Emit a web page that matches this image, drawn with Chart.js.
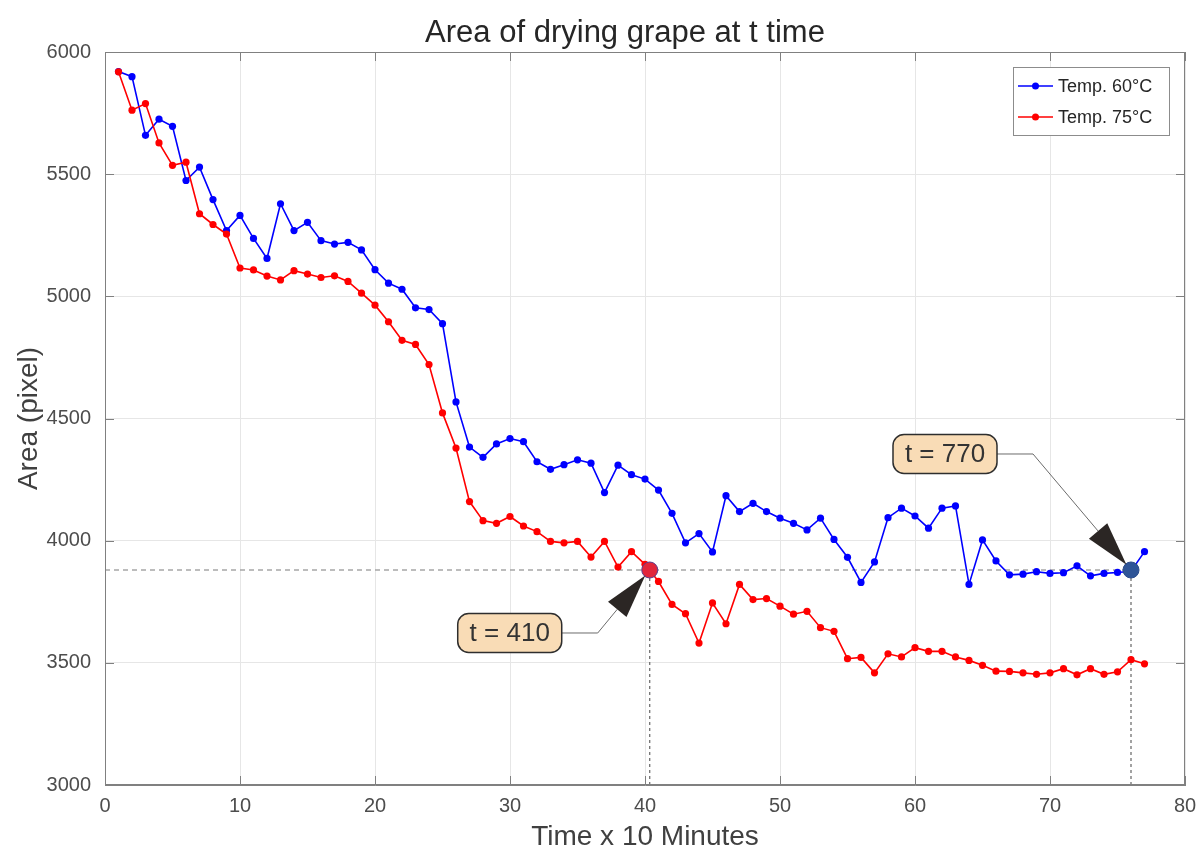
<!DOCTYPE html>
<html>
<head>
<meta charset="utf-8">
<title>Area of drying grape at t time</title>
<script src="https://cdn.jsdelivr.net/npm/chart.js@4.4.1/dist/chart.umd.min.js"></script>
<style>
  html, body { margin: 0; padding: 0; background: #fff; }
  #wrap { width: 1199px; height: 854px; }
</style>
</head>
<body>
<div id="wrap"><canvas id="grapeChart" width="1199" height="854"></canvas></div>
<script>
// values (x in units of 10 minutes)
const timeSteps = [1, 2, 3, 4, 5, 6, 7, 8, 9, 10, 11, 12, 13, 14, 15, 16, 17, 18, 19, 20,
  21, 22, 23, 24, 25, 26, 27, 28, 29, 30, 31, 32, 33, 34, 35, 36, 37, 38, 39, 40,
  41, 42, 43, 44, 45, 46, 47, 48, 49, 50, 51, 52, 53, 54, 55, 56, 57, 58, 59, 60,
  61, 62, 63, 64, 65, 66, 67, 68, 69, 70, 71, 72, 73, 74, 75, 76, 77];

const areaTemp60 = [5920, 5899, 5659, 5725, 5696, 5474, 5529, 5396, 5269, 5331,
  5237, 5155, 5379, 5269, 5303, 5228, 5214, 5221, 5190, 5109,
  5054, 5029, 4953, 4946, 4888, 4568, 4383, 4341, 4396, 4418,
  4405, 4323, 4292, 4311, 4331, 4317, 4197, 4309, 4270, 4252,
  4207, 4112, 3991, 4029, 3954, 4184, 4119, 4153, 4119, 4092,
  4071, 4044, 4092, 4005, 3932, 3829, 3913, 4094, 4133, 4101,
  4051, 4133, 4142, 3821, 4003, 3917, 3860, 3863, 3873, 3866,
  3869, 3897, 3856, 3866, 3870, 3875, 3955];

const areaTemp75 = [5919, 5762, 5789, 5628, 5536, 5549, 5338, 5294, 5255, 5116,
  5108, 5083, 5067, 5105, 5091, 5077, 5084, 5061, 5013, 4964,
  4896, 4820, 4803, 4721, 4523, 4379, 4160, 4082, 4071, 4099,
  4060, 4037, 3997, 3991, 3997, 3933, 3997, 3892, 3955, 3903,
  3833, 3739, 3701, 3581, 3745, 3660, 3821, 3759, 3763, 3732,
  3699, 3711, 3644, 3629, 3517, 3522, 3459, 3537, 3524, 3562,
  3547, 3547, 3524, 3510, 3490, 3466, 3465, 3459, 3453, 3459,
  3476, 3451, 3476, 3453, 3463, 3513, 3496];

const seriesLabels = ['Temp. 60°C', 'Temp. 75°C'];
const xTickValues = [0, 10, 20, 30, 40, 50, 60, 70, 80];
const yTickValues = [3000, 3500, 4000, 4500, 5000, 5500, 6000];

// the two marked points and their callouts
const markLabels = ['t = 410', 't = 770'];
const markTimes = [40.35, 76];
const markAreas = [3880, 3880];

const FONT = '"Liberation Sans", Arial, Helvetica, sans-serif';

function toPoints(xs, ys) {
  return xs.map((t, i) => ({ x: t, y: ys[i] }));
}

// title drawn by hand so it sits where the original one does
const titlePlugin = {
  id: 'plotTitle',
  afterDraw(chart) {
    const { ctx, chartArea: a } = chart;
    ctx.save();
    ctx.font = '31px ' + FONT;
    ctx.fillStyle = '#262626';
    ctx.textAlign = 'center';
    ctx.textBaseline = 'alphabetic';
    ctx.fillText('Area of drying grape at t time', (a.left + a.right) / 2 - 20, 42);
    ctx.restore();
  }
};

// box round the axes with inward ticks, like the original figure
const framePlugin = {
  id: 'frame',
  afterDraw(chart) {
    const { ctx, chartArea: a, scales: { x, y } } = chart;
    ctx.save();
    ctx.strokeStyle = '#808080';
    ctx.lineWidth = 1;
    ctx.beginPath();
    xTickValues.forEach(v => {
      const px = Math.round(x.getPixelForValue(v)) + 0.5;
      ctx.moveTo(px, a.bottom); ctx.lineTo(px, a.bottom - 9);
      ctx.moveTo(px, a.top); ctx.lineTo(px, a.top + 9);
    });
    yTickValues.forEach(v => {
      const py = Math.round(y.getPixelForValue(v)) + 0.5;
      ctx.moveTo(a.left, py); ctx.lineTo(a.left + 9, py);
      ctx.moveTo(a.right, py); ctx.lineTo(a.right - 9, py);
    });
    ctx.stroke();
    ctx.strokeRect(Math.round(a.left) + 0.5, Math.round(a.top) + 0.5,
      Math.round(a.width) - 1, Math.round(a.height) - 1);
    ctx.restore();
  }
};

// boxed legend in the top right corner of the plot
const boxLegendPlugin = {
  id: 'boxLegend',
  afterDraw(chart) {
    const { ctx, chartArea: a } = chart;
    const w = 156, h = 68;
    const bx = a.right - 16 - w, by = a.top + 15;
    ctx.save();
    ctx.fillStyle = '#fff';
    ctx.fillRect(bx, by, w, h);
    ctx.strokeStyle = '#8c8c8c';
    ctx.lineWidth = 1;
    ctx.strokeRect(bx + 0.5, by + 0.5, w, h);
    ctx.font = '18px ' + FONT;
    ctx.textBaseline = 'middle';
    ctx.fillStyle = '#262626';
    [0, 1].forEach(i => {
      const ds = chart.data.datasets[i];
      const ly = by + 19 + i * 31;
      ctx.strokeStyle = ds.borderColor;
      ctx.lineWidth = 1.6;
      ctx.beginPath();
      ctx.moveTo(bx + 5, ly);
      ctx.lineTo(bx + 40, ly);
      ctx.stroke();
      ctx.fillStyle = ds.borderColor;
      ctx.beginPath();
      ctx.arc(bx + 22.5, ly, 3.5, 0, Math.PI * 2);
      ctx.fill();
      ctx.fillStyle = '#262626';
      ctx.fillText(ds.label, bx + 45, ly + 1);
    });
    ctx.restore();
  }
};

// label boxes with arrows pointing at the marked points
const calloutLayout = [
  { boxDx: -140, boxDy: 63, elbowDx: -52 },
  { boxDx: -186, boxDy: -116, elbowDx: -98 }
];

function roundRect(ctx, x, y, w, h, r) {
  ctx.beginPath();
  ctx.moveTo(x + r, y);
  ctx.arcTo(x + w, y, x + w, y + h, r);
  ctx.arcTo(x + w, y + h, x, y + h, r);
  ctx.arcTo(x, y + h, x, y, r);
  ctx.arcTo(x, y, x + w, y, r);
  ctx.closePath();
}

const calloutPlugin = {
  id: 'callouts',
  afterDatasetsDraw(chart) {
    const { ctx, scales: { x, y } } = chart;
    ctx.save();
    markLabels.forEach((label, i) => {
      const lay = calloutLayout[i];
      const ax = x.getPixelForValue(markTimes[i]);
      const ay = y.getPixelForValue(markAreas[i]);
      const cx = ax + lay.boxDx, cy = ay + lay.boxDy;
      const bw = 104, bh = 39;
      const ex = ax + lay.elbowDx, ey = cy;
      // direction from elbow to the point
      const dx = ax - ex, dy = ay - ey;
      const len = Math.hypot(dx, dy);
      const ux = dx / len, uy = dy / len;
      const tipX = ax - ux * 7, tipY = ay - uy * 7;
      const baseX = tipX - ux * 44, baseY = tipY - uy * 44;

      ctx.strokeStyle = '#6b6b6b';
      ctx.lineWidth = 1;
      ctx.beginPath();
      ctx.moveTo(cx + bw / 2, cy);
      ctx.lineTo(ex, ey);
      ctx.lineTo(baseX, baseY);
      ctx.stroke();

      ctx.fillStyle = '#2b2624';
      ctx.beginPath();
      ctx.moveTo(tipX, tipY);
      ctx.lineTo(baseX - uy * 12, baseY + ux * 12);
      ctx.lineTo(baseX + uy * 12, baseY - ux * 12);
      ctx.closePath();
      ctx.fill();

      roundRect(ctx, cx - bw / 2, cy - bh / 2, bw, bh, 11);
      ctx.fillStyle = '#f9dcb6';
      ctx.fill();
      ctx.strokeStyle = '#2e2e2e';
      ctx.lineWidth = 1.5;
      ctx.stroke();

      ctx.fillStyle = '#333';
      ctx.font = '26px ' + FONT;
      ctx.textAlign = 'center';
      ctx.textBaseline = 'middle';
      ctx.fillText(label, cx, cy + 1);
    });
    ctx.restore();
  }
};

const ctx = document.getElementById('grapeChart').getContext('2d');
new Chart(ctx, {
  type: 'line',
  data: {
    datasets: [
      {
        label: seriesLabels[0],
        data: toPoints(timeSteps, areaTemp60),
        borderColor: '#0000ff',
        backgroundColor: '#0000ff',
        borderWidth: 1.6,
        pointRadius: 3.6,
        pointBorderWidth: 0,
        tension: 0,
        order: 2
      },
      {
        label: seriesLabels[1],
        data: toPoints(timeSteps, areaTemp75),
        borderColor: '#ff0000',
        backgroundColor: '#ff0000',
        borderWidth: 1.6,
        pointRadius: 3.6,
        pointBorderWidth: 0,
        tension: 0,
        order: 1
      },
      {
        label: 'level',
        data: [{ x: xTickValues[0], y: markAreas[0] }, { x: markTimes[1], y: markAreas[1] }],
        borderColor: '#a6a6a6',
        borderWidth: 1.4,
        borderDash: [5, 4],
        pointRadius: 0,
        order: 4
      },
      {
        label: 'drop 410',
        data: [{ x: markTimes[0], y: yTickValues[0] }, { x: markTimes[0], y: markAreas[0] }],
        borderColor: '#666',
        borderWidth: 1.2,
        borderDash: [3, 3],
        pointRadius: 0,
        order: 4
      },
      {
        label: 'drop 770',
        data: [{ x: markTimes[1], y: yTickValues[0] }, { x: markTimes[1], y: markAreas[1] }],
        borderColor: '#666',
        borderWidth: 1.2,
        borderDash: [3, 3],
        pointRadius: 0,
        order: 4
      },
      {
        label: 'marks',
        data: toPoints(markTimes, markAreas),
        showLine: false,
        pointRadius: 8,
        pointBackgroundColor: ['#e1263b', '#2f5597'],
        pointBorderColor: ['#5a3c8c', '#2b4c8c'],
        pointBorderWidth: 1,
        order: 0
      }
    ]
  },
  options: {
    responsive: false,
    animation: false,
    layout: { padding: { left: 0, right: 14, top: 52, bottom: 0 } },
    plugins: {
      legend: { display: false },
      tooltip: { enabled: false },
      title: { display: false }
    },
    scales: {
      x: {
        type: 'linear',
        min: 0,
        max: 80,
        afterBuildTicks: s => { s.ticks = xTickValues.map(v => ({ value: v })); },
        afterFit: s => { s.height = 69; s.paddingLeft = 0; s.paddingRight = 0; },
        grid: { color: '#e6e6e6', drawTicks: false },
        border: { color: '#808080' },
        ticks: {
          padding: 9, color: '#4d4d4d', font: { family: FONT, size: 20 },
          callback: v => String(v)
        },
        title: {
          display: true,
          text: 'Time x 10 Minutes',
          color: '#404040',
          font: { family: FONT, size: 28 },
          padding: { top: 0, bottom: 0 }
        }
      },
      y: {
        type: 'linear',
        min: 3000,
        max: 6000,
        afterBuildTicks: s => { s.ticks = yTickValues.map(v => ({ value: v })); },
        afterFit: s => { s.width = 105; },
        grid: { color: '#e6e6e6', drawTicks: false },
        border: { color: '#808080' },
        ticks: {
          padding: 14, color: '#4d4d4d', font: { family: FONT, size: 20 },
          callback: v => String(v)
        },
        title: {
          display: true,
          text: 'Area (pixel)',
          color: '#404040',
          font: { family: FONT, size: 28 },
          padding: { top: 12, bottom: 0 }
        }
      }
    }
  },
  plugins: [titlePlugin, calloutPlugin, framePlugin, boxLegendPlugin]
});
</script>
</body>
</html>
